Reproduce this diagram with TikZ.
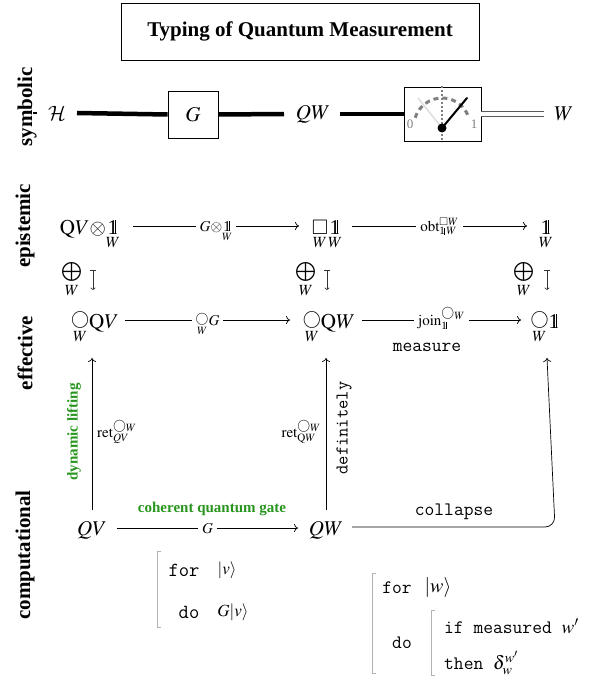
\documentclass[tikz,border=0pt]{standalone}
\usepackage{amsmath}
\usepackage{mathptmx}
\usepackage{amssymb}
\usepackage{fontspec}
\setmainfont{Liberation Serif}
\usetikzlibrary{arrows.meta}
\DeclareMathAlphabet{\mathcalcm}{OMS}{cmsy}{m}{n}
\definecolor{lgreen}{RGB}{40,150,30}
\newcommand\fs[1]{\fontsize{#1}{#1}\selectfont}
\newcommand\onebox{\makebox[0pt][l]{1}\kern0.37em\vrule height0.655em depth0pt width0.03em\kern0.12em}
\newcommand\one{\mathord{\text{\onebox}}}
\newcommand\circsym{\hbox{\raisebox{0.15em}{\scalebox{0.86}{$\bigcirc$}}}}
\newcommand\cW{{\underset{W}{\circsym}}}
\newcommand\sqW{{\underset{W}{\hbox{$\square$}}}}
\newcommand\oneW{{\underset{W}{\one}}}
\newcommand\opW{{\underset{W}{\textstyle\bigoplus}}}
\tikzset{
  mnode/.style={inner sep=0pt, anchor=base, font=\fs{21}},
  lab/.style={fill=white, inner xsep=4pt, inner ysep=1pt, anchor=base, yshift=-5pt, font=\fs{15}},
  arr/.style={-{To[length=4pt,width=8pt]}, line width=0.7pt},
  maparr/.style={{Bar[width=6pt,line width=0.7pt]}-{To[length=2.5pt,width=5pt]}, line width=0.7pt, black!80},
  side/.style={rotate=90, font=\fs{21}\bfseries, inner sep=0pt},
  green/.style={text=lgreen, font=\fs{15}\bfseries, inner sep=0pt},
  mono/.style={font=\fs{19}\ttfamily, inner sep=0pt},
  brk/.style={gray!60, line width=0.8pt},
  wire/.style={line width=4.5pt},
}
\begin{document}
\begin{tikzpicture}[x=1pt,y=-1pt]
\useasboundingbox (0,0) rectangle (594,679);

% title
\node[draw, line width=0.8pt, minimum width=358pt, minimum height=57pt, inner sep=0pt,
      font=\fs{21}\bfseries] (T) at (300,31.5) {Typing of Quantum Measurement};

% side labels
\node[side] (Ls) at (27,107) {symbolic};
\node[side] (Le) at (25,226) {epistemic};
\node[side] (Lf) at (25,353) {effective};
\node[side] (Lc) at (25,555) {computational};

% symbolic row
\draw[line width=2pt] (33,113) -- (37,113);
\node[inner sep=0pt, font=\fs{21}] (H) at (57,113) {$\mathcalcm{H}$};
\node[draw, line width=0.8pt, minimum width=50pt, minimum height=47pt, inner sep=0pt, font=\fs{21}] (G) at (193,114.5) {$G$};
\node[inner sep=0pt, font=\fs{21}] (QWs) at (313,114) {$QW$};
\node[draw, line width=0.8pt, minimum width=77pt, minimum height=54pt, inner sep=0pt] (M) at (442.5,114) {};
\node[inner sep=0pt, font=\fs{21}] (Ws) at (564,114) {$W$};
\draw[wire] ([xshift=20pt]H.center) -- (G.west);
\draw[wire] (G.east) -- ([xshift=-29pt]QWs.center);
\draw[wire] ([xshift=27pt]QWs.center) -- (M.west);
\draw[black!65, line width=1.6pt, double distance=3.5pt] (M.east) -- ([xshift=-20pt]Ws.center);

% meter
\draw[gray, line width=1.6pt, dash pattern=on 2pt off 2pt] (442,86) -- (442,142);
\draw[gray, line width=3pt, dash pattern=on 5pt off 4pt] (442,126) ++(197:28) arc[start angle=197, end angle=343, radius=28];
\draw[gray!25, line width=1.6pt] (442,128) -- (418,98);
\draw[black, line width=2pt, line cap=round] (442,128) -- (467,98);
\fill (442,128) circle (4.5pt);
\node[text=gray, font=\fs{13}, inner sep=0pt] (m0) at (410,124) {0};
\node[text=gray, font=\fs{13}, inner sep=0pt] (m1) at (474,124) {1};

% epistemic row
\node[mnode] (A1) at (90,234) {$\mathrm{Q}V{\otimes}\oneW$};
\node[mnode] (A2) at (327,234) {$\sqW\oneW$};
\node[mnode] (A3) at (546,234) {$\oneW$};
\draw[arr] ([xshift=43pt,yshift=8pt]A1.base) -- node[lab] {$G{\otimes}\oneW$} ([xshift=-28pt,yshift=8pt]A2.base);
\draw[arr] ([xshift=25pt,yshift=8pt]A2.base) -- node[lab] {$\mathrm{obt}^{\square W}_{\one\,W}$} ([xshift=-19pt,yshift=8pt]A3.base);

% oplus row
\node[inner sep=0pt, font=\fs{21}] (P1) at (72,280) {$\opW$};
\node[inner sep=0pt, font=\fs{21}] (P2) at (306,280) {$\opW$};
\node[inner sep=0pt, font=\fs{21}] (P3) at (524,280) {$\opW$};
\draw[maparr] ([xshift=21pt,yshift=10pt]P1.center) -- ++(0,20);
\draw[maparr] ([xshift=21pt,yshift=10pt]P2.center) -- ++(0,20);
\draw[maparr] ([xshift=23pt,yshift=10pt]P3.center) -- ++(0,20);

% effective row
\node[mnode] (B1) at (95,328) {$\cW\mathrm{Q}V$};
\node[mnode] (B2) at (329,328) {$\cW\mathrm{Q}W$};
\node[mnode] (B3) at (545,328) {$\cW\one$};
\draw[arr] ([xshift=30pt,yshift=8pt]B1.base) -- node[lab] {$\cW G$} ([xshift=-39pt,yshift=8pt]B2.base);
\draw[arr] ([xshift=33pt,yshift=8pt]B2.base) -- node[lab] {$\mathrm{join}^{\circsym W}_{\one}$} ([xshift=-24pt,yshift=8pt]B3.base);
\node[mono] (meas) at (427,347) {measure};

% computational row
\node[mnode] (C1) at (92,535) {$QV$};
\node[mnode] (C2) at (326,535) {$QW$};
\draw[arr] ([xshift=25pt,yshift=7pt]C1.base) -- node[lab] {$G$} ([xshift=-28pt,yshift=7pt]C2.base);
\node[green] (cqg) at (212,509) {coherent quantum gate};

% vertical arrows
\draw[arr] ([yshift=25pt]C1.base) -- ([xshift=-3pt,yshift=-30pt]B1.base);
\draw[arr] ([yshift=25pt]C2.base) -- ([xshift=-3pt,yshift=-30pt]B2.base);
\draw[arr, rounded corners=10pt] ([xshift=26pt,yshift=8pt]C2.base) -- ++(203,0) -- ([xshift=2pt,yshift=-30pt]B3.base);
\node[inner sep=0pt, anchor=west, font=\fs{15}] (rqv) at (97,432) {$\mathrm{ret}^{\circsym W}_{QV}$};
\node[inner sep=0pt, anchor=east, font=\fs{15}] (rqw) at (321,432) {$\mathrm{ret}^{\circsym W}_{\mathrm{Q}W}$};
\node[green, rotate=90] (dl) at (74,432) {dynamic lifting};
\node[mono, rotate=90, font=\fs{18}\ttfamily] (def) at (344,428) {definitely};
\node[mono] (col) at (454,512) {collapse};

% code block 1
\draw[brk] (161,551) -- (157,551) -- (157,627) -- (161,627);
\node[mono, font=\fs{20}\ttfamily] (for1) at (184,570) {for};
\node[inner sep=0pt, font=\fs{17}] (v1) at (227,570) {$|v\rangle$};
\node[mono, font=\fs{20}\ttfamily] (do1) at (189,612) {do};
\node[inner sep=0pt, font=\fs{17}] (gv1) at (233,612) {$G|v\rangle$};

% code block 2
\draw[brk] (376,573) -- (372,573) -- (372,673) -- (376,673);
\draw[brk] (435,610) -- (431,610) -- (431,675) -- (435,675);
\node[mono] (for2) at (397,588) {for};
\node[inner sep=0pt, font=\fs{20}] (w2) at (438,588) {$|w\rangle$};
\node[mono] (do2) at (402,643) {do};
\node[mono, anchor=west] (if2) at (444,626) {if measured $w'$};
\node[mono, anchor=west] (then2) at (444,663) {then $\delta^{w'}_{w}$};
\end{tikzpicture}
\end{document}
